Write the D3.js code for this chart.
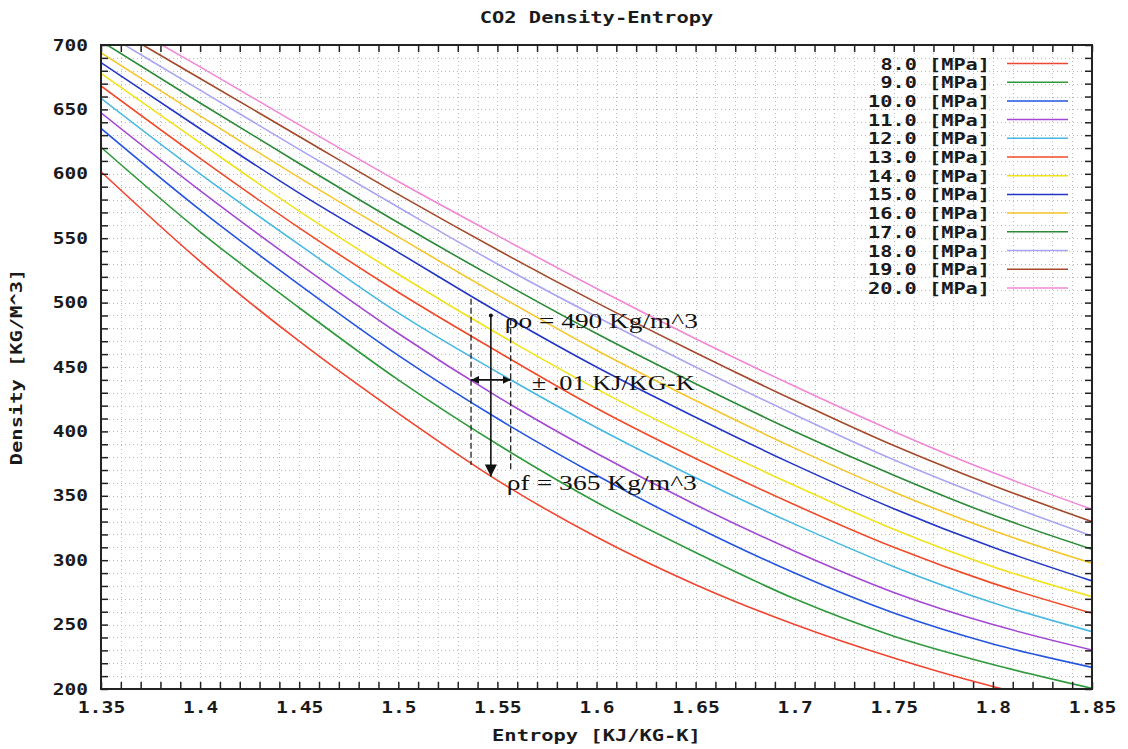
<!DOCTYPE html>
<html><head><meta charset="utf-8">
<script src="https://cdn.jsdelivr.net/npm/d3@7"></script>
<style>body{margin:0;background:#fff}</style>
</head><body><svg id="c" width="1128" height="749"></svg>
<script>
// ---- data ----
const entropy = [1.35, 1.40, 1.45, 1.50, 1.55, 1.60, 1.65, 1.70, 1.75, 1.80, 1.85];
const pressures = ["8.0", "9.0", "10.0", "11.0", "12.0", "13.0", "14.0", "15.0", "16.0", "17.0", "18.0", "19.0", "20.0"];
const p8  = [601.6, 532, 470, 414, 362, 318, 281, 250, 224, 202, 186];
const p9  = [620.6, 555, 496, 440, 390, 345, 306, 270, 241, 219, 200.5];
const p10 = [635.3, 572, 514, 459, 410, 366, 326, 290, 259, 235, 216.8];
const p11 = [647.4, 587, 530, 476, 427, 383, 343, 307, 275, 250, 230.3];
const p12 = [658.6, 600, 545, 492, 446, 403, 364, 328, 295, 267, 244.5];
const p13 = [668.2, 612, 558, 508, 462, 418, 379, 343, 310, 282, 258.8];
const p14 = [678, 624, 571, 522, 476, 433, 394, 358, 324, 295, 271.7];
const p15 = [686.3, 635, 585, 539, 493, 450, 411, 374, 340, 310, 283.9];
const p16 = [694, 645, 597, 551, 506, 463, 424, 387, 353, 323, 297.6];
const p17 = [703, 655, 608, 562, 518, 476, 437, 400, 366, 335, 308.5];
const p18 = [711, 665, 619, 574, 530, 489, 450, 413, 378, 347, 318.8];
const p19 = [719, 674, 629, 584, 541, 500, 461, 424, 389, 358, 329.9];
const p20 = [727, 683, 638, 594, 552, 511, 472, 435, 400, 368, 339.5];
const seriesValues = [p8, p9, p10, p11, p12, p13, p14, p15, p16, p17, p18, p19, p20];
const colors = ["#f0452f", "#2f9a3c", "#2455e0", "#a448d4", "#46b8e2", "#f04a28", "#f2e21a", "#2337c4", "#f6c62a", "#2a8a36", "#a8a6f2", "#a4492a", "#f286d6"];
const xTickLabels = ["1.35", "1.4", "1.45", "1.5", "1.55", "1.6", "1.65", "1.7", "1.75", "1.8", "1.85"];
const xTickValues = [1.35, 1.40, 1.45, 1.50, 1.55, 1.60, 1.65, 1.70, 1.75, 1.80, 1.85];
const yTickLabels = ["200", "250", "300", "350", "400", "450", "500", "550", "600", "650", "700"];
const yTickValues = [200, 250, 300, 350, 400, 450, 500, 550, 600, 650, 700];
// annotation (entropy / density coordinates)
const annoS = 1.5467, annoDs = 0.01, rhoO = 490, rhoF = 365, rhoMid = 440;

// ---- layout ----
const m = {l: 101, r: 1092, t: 45, b: 689};
const x = d3.scaleLinear().domain([1.35, 1.85]).range([m.l, m.r]);
const y = d3.scaleLinear().domain([200, 700]).range([m.b, m.t]);
const svg = d3.select("#c");
const monoFont = "'DejaVu Sans Mono', 'Liberation Mono', monospace";
const CW = 12.4;
function monoText(sel) {
  sel.attr("font-family", monoFont).attr("font-weight", "bold").attr("font-size", 16)
     .attr("fill", "#1a1a1a")
     .attr("textLength", function(){ return this.textContent.length * CW - 2; })
     .attr("lengthAdjust", "spacingAndGlyphs");
}

// grid
const minorX = d3.range(0, 51).map(i => 1.35 + i * 0.01);
const minorY = d3.range(0, 51).map(i => 200 + i * 10);
const grid = svg.append("g").attr("stroke", "#b9b9b9").attr("stroke-width", 1).attr("stroke-dasharray", "1,3");
grid.selectAll(".gx").data(minorX).join("line")
  .attr("x1", d => Math.round(x(d)) + 0.5).attr("x2", d => Math.round(x(d)) + 0.5)
  .attr("y1", m.t).attr("y2", m.b);
grid.selectAll(".gy").data(minorY).join("line")
  .attr("y1", d => Math.round(y(d)) + 0.5).attr("y2", d => Math.round(y(d)) + 0.5)
  .attr("x1", m.l).attr("x2", m.r);

// clip
svg.append("clipPath").attr("id", "clip").append("rect")
  .attr("x", m.l).attr("y", m.t).attr("width", m.r - m.l).attr("height", m.b - m.t);

// curves
const line = d3.line().x((d, i) => x(entropy[i])).y(d => y(d)).curve(d3.curveMonotoneX);
svg.append("g").attr("clip-path", "url(#clip)").selectAll("path").data(seriesValues).join("path")
  .attr("d", line).attr("fill", "none").attr("stroke", (d, i) => colors[i]).attr("stroke-width", 1.6);

// axes ticks (inward)
const tk = 7;
function styleAxis(g) { g.select(".domain").remove(); g.selectAll("line").attr("stroke", "#222").attr("stroke-width", 1.5); }
svg.append("g").attr("transform", `translate(0,${m.b})`).call(d3.axisBottom(x).tickValues(minorX).tickSize(-tk).tickFormat("")).call(styleAxis);
svg.append("g").attr("transform", `translate(0,${m.t})`).call(d3.axisTop(x).tickValues(minorX).tickSize(-tk).tickFormat("")).call(styleAxis);
svg.append("g").attr("transform", `translate(${m.l},0)`).call(d3.axisLeft(y).tickValues(minorY).tickSize(-tk).tickFormat("")).call(styleAxis);
svg.append("g").attr("transform", `translate(${m.r},0)`).call(d3.axisRight(y).tickValues(minorY).tickSize(-tk).tickFormat("")).call(styleAxis);

// tick labels
const xl = svg.append("g").attr("transform", `translate(0,${m.b})`)
  .call(d3.axisBottom(x).tickValues(xTickValues).tickSize(0).tickPadding(13).tickFormat((d, i) => xTickLabels[i]));
xl.select(".domain").remove();
xl.selectAll("text").call(monoText);
const yl = svg.append("g").attr("transform", `translate(${m.l},0)`)
  .call(d3.axisLeft(y).tickValues(yTickValues).tickSize(0).tickPadding(13).tickFormat((d, i) => yTickLabels[i]));
yl.select(".domain").remove();
yl.selectAll("text").call(monoText);

// frame
svg.append("rect").attr("x", m.l).attr("y", m.t).attr("width", m.r - m.l).attr("height", m.b - m.t)
  .attr("fill", "none").attr("stroke", "#222").attr("stroke-width", 2);

// titles
svg.append("text").attr("x", (m.l + m.r) / 2).attr("y", 23).attr("text-anchor", "middle").text("CO2 Density-Entropy").call(monoText).attr("font-size", 15);
svg.append("text").attr("x", (m.l + m.r) / 2).attr("y", 741).attr("text-anchor", "middle").text("Entropy [KJ/KG-K]").call(monoText).attr("font-size", 15);
svg.append("text").attr("transform", `translate(22,${(m.t + m.b) / 2}) rotate(-90)`).attr("text-anchor", "middle").text("Density [KG/M^3]").call(monoText).attr("font-size", 15);

// legend
const lg = svg.append("g");
pressures.forEach((p, i) => {
  const yy = 63.5 + i * 18.7;
  lg.append("text").attr("x", 990).attr("y", yy + 6).attr("text-anchor", "end").text(`${p} [MPa]`).call(monoText);
  lg.append("line").attr("x1", 1007).attr("x2", 1068).attr("y1", yy).attr("y2", yy)
    .attr("stroke", colors[i]).attr("stroke-width", 1.5);
});

// annotation
const defs = svg.append("defs");
defs.append("marker").attr("id", "headBig").attr("viewBox", "0 0 10 10").attr("refX", 10).attr("refY", 5)
  .attr("markerWidth", 12).attr("markerHeight", 12).attr("markerUnits", "userSpaceOnUse").attr("orient", "auto")
  .append("path").attr("d", "M0,0 L10,5 L0,10 Z").attr("fill", "#111");
defs.append("marker").attr("id", "headSmall").attr("viewBox", "0 0 10 10").attr("refX", 10).attr("refY", 5)
  .attr("markerWidth", 8).attr("markerHeight", 8).attr("markerUnits", "userSpaceOnUse").attr("orient", "auto-start-reverse")
  .append("path").attr("d", "M0,0 L10,5 L0,10 Z").attr("fill", "#111");
const an = svg.append("g");
an.append("line").attr("x1", x(annoS - annoDs)).attr("x2", x(annoS - annoDs)).attr("y1", y(503)).attr("y2", y(374))
  .attr("stroke", "#222").attr("stroke-width", 1.3).attr("stroke-dasharray", "6,3");
an.append("line").attr("x1", x(annoS + annoDs)).attr("x2", x(annoS + annoDs)).attr("y1", y(487)).attr("y2", y(370))
  .attr("stroke", "#222").attr("stroke-width", 1.3).attr("stroke-dasharray", "6,3");
an.append("line").attr("x1", x(annoS)).attr("x2", x(annoS)).attr("y1", y(rhoO)).attr("y2", y(rhoF))
  .attr("stroke", "#111").attr("stroke-width", 1.6).attr("marker-end", "url(#headBig)");
an.append("circle").attr("cx", x(annoS)).attr("cy", y(rhoO)).attr("r", 2).attr("fill", "#111");
an.append("line").attr("x1", x(annoS - annoDs)).attr("x2", x(annoS + annoDs)).attr("y1", y(rhoMid)).attr("y2", y(rhoMid))
  .attr("stroke", "#111").attr("stroke-width", 1.6)
  .attr("marker-start", "url(#headSmall)").attr("marker-end", "url(#headSmall)");
const serif = "'Liberation Serif', 'DejaVu Serif', serif";
an.append("text").attr("x", x(annoS) + 14).attr("y", y(rhoO) + 13).text("ρo = 490 Kg/m^3")
  .attr("font-family", serif).attr("font-size", 20).attr("fill", "#111")
  .attr("textLength", 193).attr("lengthAdjust", "spacingAndGlyphs");
an.append("text").attr("x", x(annoS + annoDs) + 21).attr("y", y(rhoMid) + 10).text("± .01 KJ/KG-K")
  .attr("font-family", serif).attr("font-size", 20).attr("fill", "#111")
  .attr("textLength", 163).attr("lengthAdjust", "spacingAndGlyphs");
an.append("text").attr("x", x(annoS) + 16).attr("y", y(rhoF) + 14).text("ρf = 365 Kg/m^3")
  .attr("font-family", serif).attr("font-size", 20).attr("fill", "#111")
  .attr("textLength", 190).attr("lengthAdjust", "spacingAndGlyphs");
</script>
</body></html>
